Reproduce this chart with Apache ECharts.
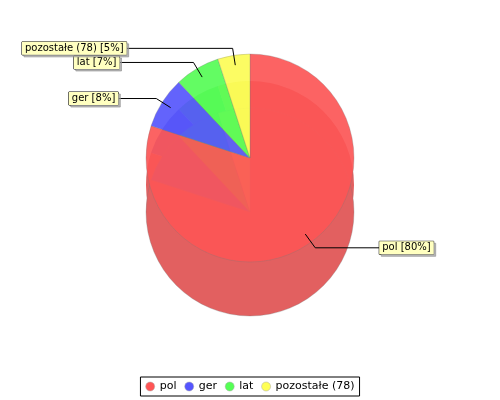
<!DOCTYPE html>
<html><head><meta charset="utf-8">
<script src="https://cdn.jsdelivr.net/npm/echarts@6/dist/echarts.min.js"></script>
<style>html,body{margin:0;padding:0;background:#fff}#c{width:500px;height:400px}</style>
</head><body><div id="c"></div>
<script>
// data
const categories = ['pol', 'ger', 'lat', 'pozostałe (78)'];
const values = [80, 8, 7, 5];

// styles (kept separate from data)
const topColors = ['#fc5656', '#5656fc', '#56fc56', '#fcfc56'];
const sideColors = ['#e26060', '#6a60d8', '#60e260', '#e2e260'];
const legendColors = ['#ff5555', '#5555ff', '#55ff55', '#ffff55'];
const labelLen2 = [64, 38, 74, 106];

const chart = echarts.init(document.getElementById('c'), null, { renderer: 'canvas' });

function mk(colors, extra) {
  return categories.map((n, i) => Object.assign(
    { name: n, value: values[i], itemStyle: { color: colors[i] } },
    extra ? extra(i) : {}
  ));
}
const border = { borderColor: 'rgba(120,120,120,0.5)', borderWidth: 0.6 };
const base = {
  type: 'pie', startAngle: 90, clockwise: true, animation: false, silent: true,
  label: { show: false }, labelLine: { show: false }, emphasis: { disabled: true },
  avoidLabelOverlap: false
};
const transparent = categories.map(() => 'rgba(0,0,0,0)');

const option = {
  animation: false,
  legend: {
    bottom: 4, left: 'center', orient: 'horizontal', icon: 'circle',
    itemWidth: 9, itemHeight: 9, itemGap: 8,
    textStyle: { fontFamily: 'DejaVu Sans', fontSize: 11, color: '#000' },
    borderColor: '#000', borderWidth: 1, padding: [4, 5], selectedMode: false,
    data: categories.map((n, i) => ({ name: n, itemStyle: { color: legendColors[i], borderColor: '#aaa', borderWidth: 0.5 } }))
  },
  series: [
    Object.assign({}, base, { name: 'side', center: [250, 185], radius: 104, itemStyle: { borderWidth: 0 }, data: mk(sideColors), z: 1 }),
    Object.assign({}, base, { name: 'bottom', center: [250, 212], radius: 104, itemStyle: border, data: mk(sideColors), z: 2 }),
    Object.assign({}, base, { name: 'top', center: [250, 158], radius: 104, itemStyle: Object.assign({}, border, { opacity: 0.92 }), data: mk(topColors), z: 3 }),
    Object.assign({}, base, {
      name: 'labels', center: [250, 158], radius: 94, z: 4,
      itemStyle: { borderWidth: 0 },
      data: mk(transparent, i => ({ labelLine: { length2: labelLen2[i] } })),
      label: {
        show: true, position: 'outside', alignTo: 'none', distanceToLabelLine: 0,
        formatter: p => p.name + ' [' + Math.round(p.percent) + '%]',
        fontFamily: 'DejaVu Sans', fontSize: 10, color: '#000', lineHeight: 11,
        backgroundColor: '#ffffc0', borderColor: '#000', borderWidth: 0.5,
        padding: [1, 3, 1, 3],
        shadowColor: 'rgba(150,150,150,0.7)', shadowOffsetX: 2, shadowOffsetY: 2, shadowBlur: 0
      },
      labelLine: { show: true, length: 17, smooth: false, lineStyle: { color: '#000', width: 1 } }
    })
  ]
};
chart.setOption(option);
</script>
</body></html>
